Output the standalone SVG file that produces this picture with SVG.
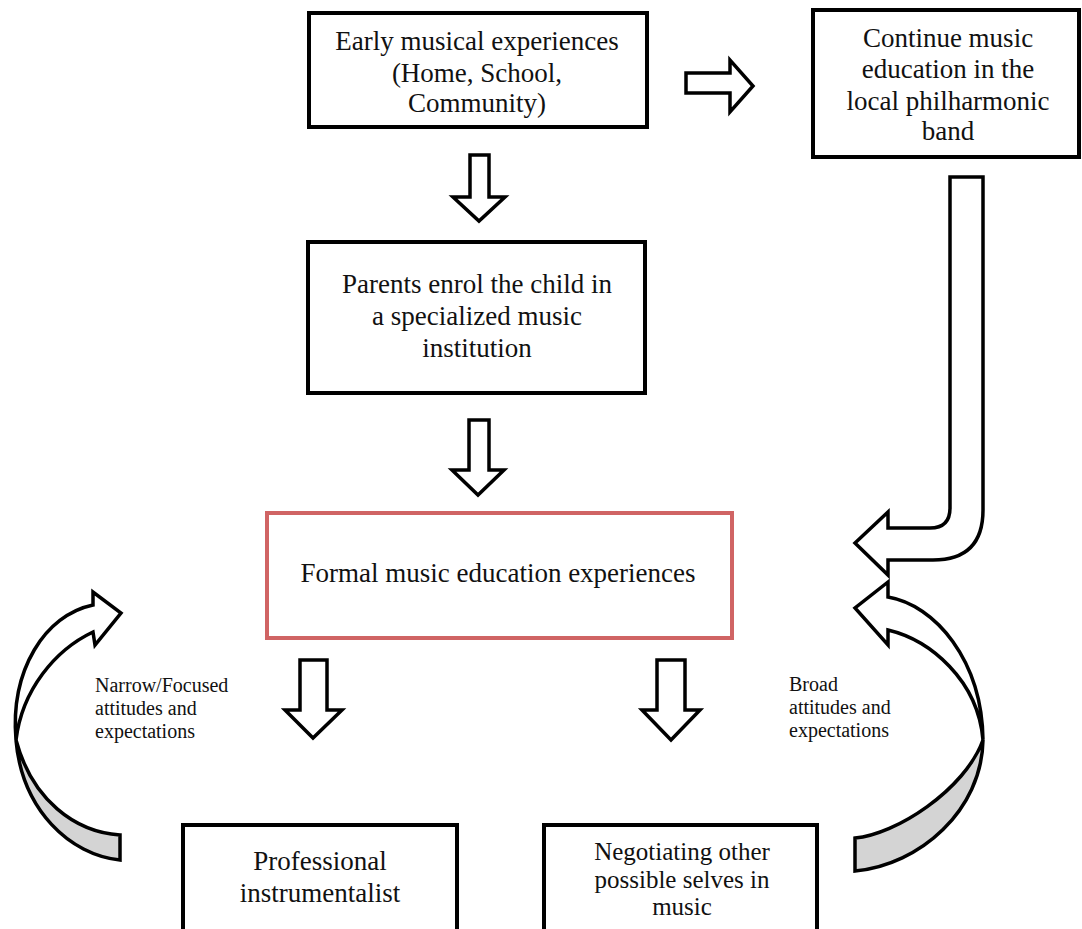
<svg xmlns="http://www.w3.org/2000/svg" width="1082" height="929" viewBox="0 0 1082 929">
<style>
.box{fill:#fff;stroke:#000;stroke-width:4}
.red{fill:#fff;stroke:#d06464;stroke-width:4}
.arr{fill:#fff;stroke:#000;stroke-width:3.5;stroke-linejoin:miter}
.shade{fill:#d4d4d4;stroke:#000;stroke-width:3.5;stroke-linejoin:miter}
.t{font-family:"Liberation Serif","Times New Roman",serif;font-size:27px;fill:#111;text-anchor:middle}
.s{font-size:25px}
.lab{font-family:"Liberation Serif","Times New Roman",serif;font-size:20px;fill:#111}
</style>
<rect width="1082" height="929" fill="#fff"/>
<g id="connectors">
  <path class="arr" d="M686,73 L730,73 L730,60 L753,86 L730,112 L730,93 L686,93 Z"/>
  <path class="arr" d="M470,155 L489,155 L489,197 L505,197 L479,221 L453,197 L470,197 Z"/>
  <path class="arr" d="M469,420 L489,420 L489,470 L504,470 L478,495 L452,470 L469,470 Z"/>
  <path class="arr" d="M300,660 L327,660 L327,710 L342,710 L313,738 L285,710 L300,710 Z"/>
  <path class="arr" d="M657,660 L685,660 L685,710 L700,710 L671,740 L642,710 L657,710 Z"/>
  <path class="arr" d="M950,177 L983,177 L983,510 Q983,560 933,560 L888,560 L888,575 L855,543 L888,512 L888,528 L930,528 Q950,528 950,508 Z"/>
  <path class="shade" d="M16,740 C22,810 70,855 120,860 L120,835 C75,832 32,800 16,740 Z"/>
  <path class="arr" d="M16,740 C10,670 45,615 93,605 L93,592 L121,613 L95,645 L93,632 C55,650 22,690 16,740 Z"/>
  <path class="shade" d="M983,740 C982,810 920,865 855,871 L855,838 C895,835 965,790 983,740 Z"/>
  <path class="arr" d="M983,740 C982,660 935,605 888,597 L888,582 L855,608 L888,645 L888,630 C930,640 978,680 983,740 Z"/>
</g>
<g id="early">
  <rect class="box" x="309" y="13" width="338" height="114"/>
  <text class="t" x="477" y="50">Early musical experiences</text>
  <text class="t" x="477" y="82">(Home, School,</text>
  <text class="t" x="477" y="112">Community)</text>
</g>
<g id="continue">
  <rect class="box" x="813" y="10" width="266" height="147"/>
  <text class="t" x="948" y="47">Continue music</text>
  <text class="t" x="948" y="78">education in the</text>
  <text class="t" x="948" y="110">local philharmonic</text>
  <text class="t" x="948" y="140">band</text>
</g>
<g id="parents">
  <rect class="box" x="308" y="242" width="337" height="151"/>
  <text class="t" x="477" y="293">Parents enrol the child in</text>
  <text class="t" x="477" y="325">a specialized music</text>
  <text class="t" x="477" y="357">institution</text>
</g>
<g id="formal">
  <rect class="red" x="267" y="513" width="465" height="125"/>
  <text class="t" x="498" y="582">Formal music education experiences</text>
</g>
<g id="professional">
  <rect class="box" x="183" y="825" width="274" height="115"/>
  <text class="t" x="320" y="870">Professional</text>
  <text class="t" x="320" y="902">instrumentalist</text>
</g>
<g id="negotiating">
  <rect class="box" x="544" y="825" width="273" height="115"/>
  <text class="t s" x="682" y="860">Negotiating other</text>
  <text class="t s" x="682" y="888">possible selves in</text>
  <text class="t s" x="682" y="915">music</text>
</g>
<g id="labels">
  <text class="lab" x="95" y="692">Narrow/Focused</text>
  <text class="lab" x="95" y="715">attitudes and</text>
  <text class="lab" x="95" y="738">expectations</text>
  <text class="lab" x="789" y="691">Broad</text>
  <text class="lab" x="789" y="714">attitudes and</text>
  <text class="lab" x="789" y="737">expectations</text>
</g>
</svg>
